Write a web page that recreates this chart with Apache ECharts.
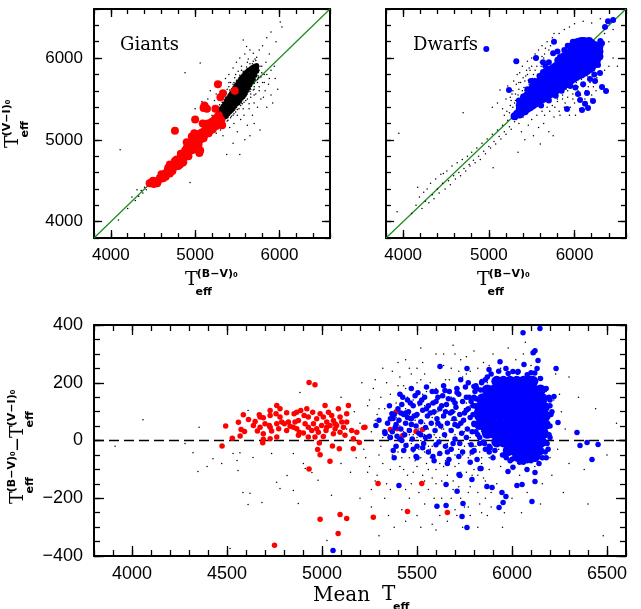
<!DOCTYPE html>
<html>
<head>
<meta charset="utf-8" />
<title>Teff comparison</title>
<script src="https://cdn.jsdelivr.net/npm/echarts@6/dist/echarts.min.js"></script>
<style>
  html, body { margin: 0; padding: 0; background: #fff; }
  #chart { width: 641px; height: 609px; }
</style>
</head>
<body>
<div id="chart"></div>
<script>
// ---- data ----
var diagonal = [[3800, 3800], [6600, 6600]];
var zeroLine = [[3800, 0], [6600, 0]];

// Giants: sparse field stars
var giantsDots = [
  [4090,4020],[4110,4880],[4200,4160],[4250,4300],[4290,4260],[4310,4390],[4330,4310],[4360,4380],[4380,4350],[4400,4420],
  [4420,4390],[4440,4470],[4470,4430],[4500,4520],[4520,4480],[4550,4560],[4570,4530],[4590,4600],[4610,4570],[4640,4650],
  [4660,4610],[4690,4700],[4710,4660],[4740,4760],[4760,4720],[4790,4800],[4810,4770],[4840,4860],[4860,4820],[4890,4910],
  [4910,4870],[4940,4960],[4940,4480],[4960,4920],[4990,5010],[5010,4970],[5040,5070],[5060,5020],[5090,5120],[5110,5070],
  [5140,5170],[5160,5120],[5190,5220],[5210,5170],[5230,5270],
  [4880,5820],[5060,5940],[5000,5380],[5080,5470],[5150,5500],[5180,5600],[5200,5300],[5230,5480],[5250,5560],[5280,5650],
  [5310,5700],[5330,5460],[5360,5750],[5380,5620],[5400,5800],[5420,5700],[5450,5880],[5470,5760],[5490,5950],[5510,5840],
  [5530,6000],[5550,5900],[5570,6220],[5590,6050],[5610,6140],[5630,5990],[5650,6100],[5690,6060],[5710,5990],[5730,6010],
  [5760,6100],[5800,6150],[5850,6250],[5900,6320],[6010,6440],[6030,6380],[5960,6200],[5880,6050],
  [5250,5080],[5300,5120],[5330,5050],[5350,5180],[5375,4820],[5390,5240],[5410,5150],[5430,5290],[5450,4960],[5460,5200],
  [5480,5340],[5500,5100],[5520,5380],[5530,4820],[5540,5250],[5560,5440],[5580,5300],[5600,5480],[5620,5180],[5640,5380],
  [5660,5520],[5680,5300],[5690,5610],[5700,5450],[5720,5560],[5740,5400],[5760,5650],[5770,5120],[5780,5500],[5800,5700],
  [5810,5520],[5830,5600],[5850,5400],[5870,5680],[5900,5550],[5920,5450],[5950,5750],[5980,5620],[5700,5200],[5650,5050],
  [5590,5000],[5850,5800],[5750,5780],[5620,5620],[5300,5400],[5270,5350],
  [5240,5320],[5260,5150],[5280,5400],[5300,5180],[5320,5460],[5340,5240],[5360,5520],[5380,5290],[5400,5560],[5420,5330],
  [5440,5620],[5460,5380],[5480,5660],[5500,5420],[5520,5720],[5540,5470],[5560,5780],[5580,5510],[5600,5820],[5620,5560],
  [5640,5860],[5660,5620],[5680,5900],[5700,5690],[5720,5920],[5750,5760],[5770,5900],[5790,5820],
  [5250,5360],[5290,5430],[5330,5500],[5370,5570],[5410,5610],[5450,5680],[5490,5730],[5530,5790],[5570,5840],[5610,5890],
  [5650,5930],[5690,5960],[5340,5200],[5380,5230],[5420,5270],[5460,5320],[5500,5370],[5540,5420],[5580,5460],[5620,5500],
  [5660,5560],[5700,5620],[5740,5700],[5780,5770],
  [5200,5250],[5230,5400],[5260,5230],[5280,5500],[5310,5260],[5340,5550],[5370,5280],[5400,5650],[5430,5350],[5460,5700],
  [5490,5400],[5520,5760],[5550,5450],[5580,5800],[5600,5530],[5630,5860],[5650,5590],[5680,5930],[5700,5650],[5720,5970],
  [5740,5740],[5760,5850],[5790,5900],[5820,5800],[5840,5950],[5350,5580],[5400,5700],[5480,5800],[5550,5850],[5620,5950],
  [5500,5300],[5570,5380],[5640,5440],[5700,5550],[5760,5600],[5820,5700],[5880,5750],[5900,5850],[5940,5900],[5450,5300]
];

// Giants: dense core of field stars
var giantsCore = [
  [5230,5190],[5230,5220],
  [5250,5190],[5250,5230],[5250,5260],
  [5270,5210],[5270,5250],[5270,5290],
  [5290,5230],[5290,5270],[5290,5310],[5290,5340],
  [5310,5240],[5310,5280],[5310,5320],[5310,5360],[5310,5380],
  [5330,5260],[5330,5300],[5330,5340],[5330,5380],[5330,5410],
  [5350,5280],[5350,5320],[5350,5360],[5350,5400],[5350,5440],
  [5370,5290],[5370,5330],[5370,5370],[5370,5410],[5370,5450],[5370,5480],
  [5390,5320],[5390,5360],[5390,5400],[5390,5440],[5390,5480],[5390,5510],
  [5410,5340],[5410,5380],[5410,5420],[5410,5460],[5410,5500],[5410,5540],
  [5430,5360],[5430,5400],[5430,5440],[5430,5480],[5430,5520],[5430,5570],
  [5450,5380],[5450,5420],[5450,5460],[5450,5500],[5450,5540],[5450,5580],[5450,5610],
  [5470,5410],[5470,5450],[5470,5490],[5470,5530],[5470,5570],[5470,5610],[5470,5640],
  [5490,5440],[5490,5480],[5490,5520],[5490,5560],[5490,5600],[5490,5640],[5490,5670],
  [5510,5450],[5510,5490],[5510,5530],[5510,5570],[5510,5610],[5510,5650],[5510,5700],
  [5530,5480],[5530,5520],[5530,5560],[5530,5600],[5530,5640],[5530,5680],[5530,5730],
  [5550,5510],[5550,5550],[5550,5590],[5550,5630],[5550,5670],[5550,5710],[5550,5760],
  [5570,5530],[5570,5570],[5570,5610],[5570,5650],[5570,5690],[5570,5730],[5570,5780],
  [5590,5560],[5590,5600],[5590,5640],[5590,5680],[5590,5720],[5590,5760],[5590,5810],
  [5610,5600],[5610,5640],[5610,5680],[5610,5720],[5610,5760],[5610,5830],
  [5630,5630],[5630,5670],[5630,5710],[5630,5750],[5630,5790],[5630,5850],
  [5650,5670],[5650,5710],[5650,5750],[5650,5790],[5650,5860],
  [5670,5710],[5670,5750],[5670,5790],[5670,5830],[5670,5880],
  [5690,5740],[5690,5780],[5690,5820],[5690,5860],[5690,5890],
  [5710,5790],[5710,5830],[5710,5870],[5710,5900],
  [5730,5840],[5730,5880],[5730,5910]
];

// Giants: red sample
var giantsRed = [
  [4460,4470],[4480,4480],[4510,4460],[4530,4490],[4560,4500],[4580,4520],[4600,4540],[4620,4560],[4640,4560],[4650,4590],
  [4670,4600],[4690,4620],[4700,4640],[4710,4670],[4720,4650],[4740,4680],[4750,4700],[4760,4670],[4770,4720],[4780,4690],
  [4790,4740],[4800,4720],[4810,4760],[4820,4740],[4830,4780],[4840,4760],[4850,4800],[4860,4780],[4870,4820],[4880,4800],
  [4890,4840],[4900,4830],[4910,4870],[4920,4850],[4930,4880],[4940,4900],[4950,4870],[4960,4920],[4970,4900],[4980,4950],
  [4990,4930],[5000,4970],[5010,4950],[5020,5000],[5030,4980],[5040,5020],[5050,5000],[5060,5040],[5070,5020],[5080,5060],
  [5090,5040],[5100,5080],[5110,5060],[5120,5100],[5130,5080],[5140,5120],[5150,5100],[5160,5140],[5170,5120],[5180,5150],
  [5200,5170],[5220,5190],[5240,5200],[5260,5230],[5280,5210],[5300,5250],[5050,4840],[5060,4870],[4900,4970],[4760,5110],
  [5000,5250],[5100,5390],[5120,5400],[5140,5380],[5110,5420],[5240,5380],[5270,5680],[5300,5520],[5330,5570],[5470,5600],
  [5320,5180],[4990,5080],[5090,5200],[4960,5040],[5030,5070],[5190,5210],[5150,5200],[4700,4590],[4620,4530],[4850,4720],
  [5080,5090],
  [4500,4500],[4550,4470],[4600,4580],[4650,4550],[4700,4700],[4730,4620],[4760,4740],[4800,4680],[4830,4830],[4860,4730],
  [4880,4870],[4920,4800],[4950,4950],[4980,4880],[5010,5010],[5040,4940],[5070,5080],[5100,5020],[5130,5140],[5160,5080],
  [5190,5190],[5210,5130],[5230,5240],[5250,5170],[5270,5280],[5290,5190],[4680,4660],[4780,4760],[4820,4700],[4900,4900],
  [4970,4960],[5060,5000],[5110,5110],[5170,5170],[5200,5220],[5240,5260],[5280,5300],[5310,5240],[5190,5120]
];

// Dwarfs: field stars
var dwarfsDots = [
  [3930,4120],[3950,5080],[4100,4100],[4150,4200],[4170,4420],[4190,4300],[4220,4160],[4240,4360],[4260,4250],[4280,4400],
  [4300,4230],[4320,4470],[4340,4330],[4360,4280],[4380,4520],[4400,4400],[4420,4350],[4440,4580],[4460,4470],[4470,4590],
  [4490,4400],[4510,4620],[4530,4500],[4550,4450],[4570,4680],[4590,4560],[4610,4520],[4630,4720],[4650,4600],[4670,4560],
  [4690,4760],[4700,5330],[4710,4650],[4730,4620],[4750,4800],[4770,4700],[4780,4680],[4800,4850],[4820,4750],[4840,4720],
  [4860,4900],[4880,4800],[4900,4760],[4920,4960],[4940,4860],[4960,4830],[4980,5010],[5000,4920],[5020,4900],[5040,5070],
  [5050,4660],[5060,4980],[5080,4950],[5100,5120],[5120,5040],[5140,5010],[5160,5180],[5180,5100],[5200,5070],[5220,5240],
  [5240,5160],[5260,5130],[5280,5300],[5300,5220],[5340,4850],
  [5040,5400],[5100,5450],[5130,5610],[5160,5380],[5200,5500],[5220,5660],[5250,5420],[5270,5560],[5290,5720],[5310,5480],
  [5330,5800],[5350,5620],[5370,5700],[5390,5900],[5410,5640],[5430,5780],[5450,5960],[5460,5730],[5480,5850],[5500,6000],
  [5520,5800],[5540,6050],[5560,5900],[5580,6100],[5600,5950],[5620,6150],[5650,6050],[5680,6200],[5700,6100],[5740,6250],
  [5780,6200],[5820,6300],[5880,6350],[5940,6380],[6000,6420],[6100,6450],[6200,6430],[6300,6480],[6350,6300],[6400,6200],
  [6450,6350],
  [5350,5200],[5380,5100],[5400,5280],[5420,5000],[5440,5320],[5460,5180],[5480,5380],[5500,5250],[5520,5050],[5540,5400],
  [5560,5300],[5580,5150],[5600,5450],[5620,5350],[5640,5200],[5660,5480],[5680,5400],[5700,5100],[5720,5500],[5740,5420],
  [5760,5280],[5780,5550],[5800,5470],[5820,5350],[5840,5580],[5860,5500],[5880,5400],[5900,5620],[5920,5520],[5940,5300],
  [5960,5650],[5980,5560],[6000,5450],[6020,5700],[6040,5600],[6060,5380],[6080,5740],[6100,5650],[6120,5500],[6150,5780],
  [6180,5700],[6200,5550],[6230,5820],[6260,5760],[6300,5650],[6350,5850],[6400,5900],[6450,6000],[6500,5900],[5600,4950],
  [5750,5050],
  [5300,5340],[5320,5250],[5340,5400],[5360,5300],[5380,5460],[5400,5350],[5420,5500],[5440,5400],[5460,5560],[5480,5450],
  [5500,5600],[5520,5480],[5540,5660],[5560,5520],[5580,5700],[5600,5560],
  [5180,5300],[5210,5350],[5240,5330],[5260,5480],[5280,5400],[5310,5560],[5330,5420],[5350,5700],[5370,5520],[5400,5760],
  [5420,5600],[5440,5850],[5470,5680],[5500,5900],[5530,5750],[5560,5980],[5590,5800],[5620,6020],
  [5250,5520],[5280,5600],[5300,5450],[5320,5680],[5340,5550],[5360,5820],[5390,5600],[5420,5720],[5450,5800],[5470,5880],
  [5510,5750],[5540,5850],[5570,5800],[5610,5900],[5640,6000],[5660,6120],[5720,6150],[5760,6300],
  [5620,5400],[5650,5300],[5680,5500],[5710,5350],[5740,5550],[5770,5400],[5800,5500],[5830,5300],[5860,5550],[5890,5450],
  [5920,5600],[5950,5400],[5980,5500],[6010,5300],[6040,5650],[6070,5550],[6100,5450],[6130,5600],[6160,5650],[6190,5500],
  [6220,5650],[6250,5600]
];

// Dwarfs: blue sample, dense part of the clump
var dwarfsBlueCore = [
  [5300,5290],[5330,5320],
  [5360,5310],[5360,5370],[5360,5420],
  [5390,5340],[5390,5400],[5390,5450],
  [5420,5350],[5420,5410],[5420,5470],[5420,5520],
  [5450,5380],[5450,5440],[5450,5500],[5450,5550],
  [5480,5400],[5480,5460],[5480,5520],[5480,5580],
  [5510,5420],[5510,5480],[5510,5540],[5510,5600],[5510,5640],
  [5540,5440],[5540,5500],[5540,5560],[5540,5620],[5540,5670],
  [5570,5460],[5570,5520],[5570,5580],[5570,5640],[5570,5700],
  [5600,5480],[5600,5540],[5600,5600],[5600,5660],[5600,5720],
  [5630,5500],[5630,5560],[5630,5620],[5630,5680],[5630,5740],[5630,5790],
  [5660,5520],[5660,5580],[5660,5640],[5660,5700],[5660,5760],[5660,5820],
  [5690,5540],[5690,5600],[5690,5660],[5690,5720],[5690,5780],[5690,5840],
  [5720,5560],[5720,5620],[5720,5680],[5720,5740],[5720,5800],[5720,5860],
  [5750,5580],[5750,5640],[5750,5700],[5750,5760],[5750,5820],[5750,5880],
  [5780,5600],[5780,5660],[5780,5720],[5780,5780],[5780,5840],[5780,5900],
  [5810,5620],[5810,5680],[5810,5740],[5810,5800],[5810,5860],[5810,5920],[5810,5970],
  [5840,5640],[5840,5700],[5840,5760],[5840,5820],[5840,5880],[5840,5940],[5840,6000],
  [5870,5660],[5870,5720],[5870,5780],[5870,5840],[5870,5900],[5870,5960],[5870,6020],
  [5900,5680],[5900,5740],[5900,5800],[5900,5860],[5900,5920],[5900,5980],[5900,6040],
  [5930,5700],[5930,5760],[5930,5820],[5930,5880],[5930,5940],[5930,6000],[5930,6060],
  [5960,5730],[5960,5790],[5960,5850],[5960,5910],[5960,5970],[5960,6030],[5960,6090],[5960,6140],
  [5990,5750],[5990,5810],[5990,5870],[5990,5930],[5990,5990],[5990,6050],[5990,6110],[5990,6170],
  [6020,5770],[6020,5830],[6020,5890],[6020,5950],[6020,6010],[6020,6070],[6020,6130],[6020,6190],
  [6050,5790],[6050,5850],[6050,5910],[6050,5970],[6050,6030],[6050,6090],[6050,6150],[6050,6200],
  [6080,5800],[6080,5860],[6080,5920],[6080,5980],[6080,6040],[6080,6100],[6080,6160],[6080,6210],
  [6110,5820],[6110,5880],[6110,5940],[6110,6000],[6110,6060],[6110,6120],[6110,6180],[6110,6210],
  [6140,5840],[6140,5900],[6140,5960],[6140,6020],[6140,6080],[6140,6140],[6140,6200],
  [6170,5860],[6170,5920],[6170,5980],[6170,6040],[6170,6100],[6170,6160],[6170,6210],
  [6200,5880],[6200,5940],[6200,6000],[6200,6060],[6200,6120],[6200,6180],
  [6230,5920],[6230,5980],[6230,6040],[6230,6100],[6230,6160],
  [6260,5970],[6260,6030],[6260,6090],[6260,6150],
  [6290,6020],[6290,6080],[6290,6140]
];

// Dwarfs: blue sample, scattered
var dwarfsBlue = [
  [4970,6110],[5320,5960],[5550,6000],[5235,5610],[5750,6060],[5830,6010],[5865,5975],[5737,5853],[5632,5830],[5540,5720],
  [5490,5720],[5680,5710],[5760,6200],[5980,6200],[6064,6100],[5632,5950],[5590,5780],[5660,5900],[5700,5950],[5800,6080],
  [5880,6100],[5920,6150],[5450,5620],[5400,5530],[5350,5480],[5610,5420],[5700,5480],[5780,5540],[5850,5600],[5950,5660],
  [6297,5817],[6239,5720],[6367,5597],[6145,5573],[6064,5487],[6215,5475],[6157,5390],[6087,5365],[5912,5377],[6122,5440],
  [6040,5560],[6320,5645],[6274,5915],[6180,5744],[6100,5680],[6010,5640],[6230,5800],[6355,6380],[6390,6450],[6450,6465],
  [6300,6210],[6320,6180]
];

// Difference panel: field stars
var diffDots = [
  [4058,72],[3911,-20],[4353,46],[4279,-10],[4321,-42],[4426,-63],[4395,-90],[4347,-107],[4472,-80],[4532,-45],
  [4568,-42],[4553,-69],[4558,-104],[4584,-180],[4611,-222],[4621,-183],[4684,-215],[4516,-374],[4611,104],[4630,52],
  [4735,-45],[4761,-145],[4779,-166],[4849,-173],[4875,-218],[4902,-80],[4912,-97],[4884,166],[4947,-111],[4979,-138],
  [5026,-346],[4928,104],[4849,-45],[4816,-121],[4637,-59],[5100,150],[5150,-110],[5180,-60],[5050,-190],
  [5200,60],[5220,-30],[5240,120],[5250,-90],[5260,30],[5270,180],[5280,-140],[5290,90],[5300,-50],[5310,150],
  [5320,10],[5330,-200],[5340,200],[5350,70],[5360,-100],[5370,240],[5380,-20],[5390,130],[5400,-160],[5400,270],
  [5300,-330],[5350,-260],[5260,-230],[5380,-300],
  [5410,50],[5420,-60],[5430,190],[5440,110],[5450,-120],[5460,20],[5470,230],[5480,-40],[5490,160],[5500,80],
  [5510,-180],[5520,0],[5530,270],[5540,120],[5550,-80],[5560,40],[5570,200],[5580,-130],[5590,90],[5600,300],
  [5420,-240],[5460,-200],[5500,-260],[5540,-220],[5580,-290],[5450,150],[5470,-10],[5490,70],[5510,120],[5530,-30],
  [5550,170],[5570,-60],[5590,20],[5440,-30],[5460,90],[5480,140],[5500,-90],[5520,60],[5540,-140],[5560,110],
  [5580,-20],[5600,-100],[5430,30],[5410,-90],[5420,100],[5480,20],[5520,210],[5560,-170],[5600,50],
  [5610,-50],[5620,150],[5630,-200],[5640,260],[5650,10],[5660,-120],[5670,210],[5680,-30],[5690,330],[5700,-90],
  [5710,130],[5720,-160],[5730,280],[5740,0],[5750,-230],[5760,180],[5770,-60],[5780,240],[5790,-120],[5800,310],
  [5810,30],[5820,-180],[5830,200],[5840,-80],[5850,270],[5620,-260],[5660,-280],[5700,-240],[5740,-300],[5780,-260],
  [5820,-300],[5630,80],[5650,-70],[5670,40],[5690,-140],[5710,70],[5730,-110],[5750,110],[5770,-10],[5790,60],
  [5810,-40],[5830,100],[5850,-130],[5640,-20],[5660,120],[5680,70],[5700,20],[5720,180],[5740,-50],[5760,40],
  [5780,-160],[5800,-20],[5820,90],[5840,150],
  [5420,160],[5440,-170],[5460,250],[5480,-110],[5500,200],[5520,-60],[5540,60],[5560,-20],[5580,130],[5600,-150],
  [5620,10],[5640,-90],[5660,170],[5680,-200],[5700,100],[5720,-30],[5740,220],[5760,-110],[5780,10],[5800,150],
  [5820,-70],[5840,30],[5860,-140],[5880,260],[5460,-60],[5500,10],[5540,-40],[5580,80],[5620,-80],[5660,-10],
  [5700,-50],[5740,60],[5780,120],[5820,-120],[5860,60],[5350,20],[5370,-50],[5390,80],[5330,110],[5310,-20],
  [5290,-120],[5250,140],[5230,-60],[5210,200],[5440,280],[5520,320],[5600,-310],[5680,250],[5760,290],[5840,-250],
  [5880,-60],[5910,20],[5930,-30],[5960,-60],
  [5260,-170],[5280,210],[5300,110],[5320,-80],[5340,-150],[5360,160],[5380,50],[5400,-40],[5410,220],[5430,-100],
  [5440,180],[5450,40],[5470,-150],[5490,-70],[5500,250],[5510,40],[5530,-120],[5540,230],[5560,-100],[5570,130],
  [5590,-50],[5600,180],[5610,100],[5630,-140],[5640,40],[5650,210],[5670,-60],[5680,150],[5690,-170],[5710,0],
  [5720,240],[5730,-200],[5750,-20],[5760,130],[5770,-180],[5790,190],[5800,-100],[5810,80],[5830,-40],[5850,130],
  [5450,-10],[5480,60],[5510,-30],[5540,20],[5570,-30],[5600,10],[5630,40],[5660,-40],[5690,50],[5720,-80],
  [5750,30],[5780,-50],[5810,-20],[5840,-60],[5470,120],[5530,160],[5590,-200],[5650,-230],[5710,-260],[5770,-230],
  [5830,-220],[5890,-230],[5360,-170],[5400,190],[5440,-280],[5520,-300],[5640,300],[5700,300],[5760,230],[5820,250],
  [5870,200],[5890,-180],[5320,250],[5280,70],[5240,-110],[5200,-200],[5170,100],[5130,40],[5100,-80],
  [5860,-200],[5880,-100],[5900,300],[5920,-150],[5940,250],[5960,-250],[5980,320],[6000,-200],[6020,280],[6040,-120],
  [6060,300],[6080,-180],[6100,260],[6120,-90],[6140,220],[6160,-150],[6180,170],[6200,-60],[6220,140],[6240,-30],
  [6260,100],[6280,40],[6300,-80],[6230,230],[6250,160],[5870,-260],[5950,-300],[6050,-250],[6150,-220],[6070,340],
  [6120,300],[5900,-50],[5940,-90],[6210,-120],[6270,-180],
  [6350,150],[6400,-220],[6480,-330],[6440,110],[6500,-50],[6550,60],[6300,220],[6380,-100]
];

// Difference panel: giants (red)
var diffRed = [
  [4493,50],[4528,8],[4560,63],[4586,89],[4574,38],[4592,31],[4613,73],[4569,16],[4648,66],[4670,89],
  [4674,81],[4691,79],[4700,58],[4674,46],[4691,23],[4691,4],[4688,-8],[4727,104],[4727,87],[4723,52],
  [4735,33],[4727,6],[4762,121],[4779,110],[4758,93],[4779,81],[4788,64],[4762,58],[4772,41],[4762,12],
  [4814,96],[4802,58],[4823,64],[4814,35],[4853,93],[4867,98],[4858,64],[4876,69],[4849,46],[4881,29],
  [4876,18],[4888,104],[4920,110],[4906,87],[4928,81],[4911,58],[4928,46],[4902,26],[4928,12],[4951,98],
  [4972,75],[4955,58],[4972,41],[4981,29],[4990,93],[5016,121],[5007,81],[5025,64],[4998,52],[5021,35],
  [5034,98],[5051,87],[5060,69],[5042,52],[5069,41],[5060,23],[5086,110],[5095,81],[5104,64],[5077,52],
  [5113,46],[5095,29],[5130,93],[5139,121],[5130,64],[5121,18],[5156,35],[5165,6],[5183,29],[5226,46],
  [5197,-7],[5165,-29],[5091,-29],[5055,-19],[4990,-49],[4977,-31],[4986,-9],[5042,-72],[4932,201],[4963,193],
  [4932,-99],[4474,-19],[4639,52],[4660,33],[4727,46],[4832,49],[4867,41],[4946,35],[5025,46],[5069,58],
  [5007,14],[4963,12],
  [4990,-273],[4750,-363],[5085,-322],[5095,-256],[5130,-270],[5270,-266],[5295,-149],[5450,-246],[5525,-149],[5660,-249],
  [5390,100],[5465,76],[5360,38],[5395,41],[5425,17],[5495,31],[5530,38],[5220,45]
];

// Difference panel: dwarfs (blue), dense clump
var diffBlueCore = [
  [5920,205],[5955,205],[5990,205],[6025,205],[6060,205],[6095,205],[6110,205],
  [5870,175],[5905,175],[5940,175],[5975,175],[6010,175],[6045,175],[6080,175],[6115,175],[6150,175],
  [5845,145],[5880,145],[5915,145],[5950,145],[5985,145],[6020,145],[6055,145],[6090,145],[6125,145],[6160,145],
  [5830,115],[5865,115],[5900,115],[5935,115],[5970,115],[6005,115],[6040,115],[6075,115],[6110,115],[6145,115],[6170,115],
  [5830,85],[5865,85],[5900,85],[5935,85],[5970,85],[6005,85],[6040,85],[6075,85],[6110,85],[6145,85],[6175,85],
  [5830,55],[5865,55],[5900,55],[5935,55],[5970,55],[6005,55],[6040,55],[6075,55],[6110,55],[6145,55],[6175,55],
  [5870,25],[5905,25],[5940,25],[5975,25],[6010,25],[6045,25],[6080,25],[6115,25],[6150,25],[6165,25],
  [5920,-5],[5955,-5],[5990,-5],[6025,-5],[6060,-5],[6095,-5],[6130,-5],[6155,-5],
  [5980,-35],[6015,-35],[6050,-35],[6085,-35],[6120,-35],[6140,-35],
  [6030,-55],[6065,-55],[6100,-55],[6120,-55]
];

// Difference panel: dwarfs (blue), scattered
var diffBlue = [
  [5345,60],[5360,75],[5370,30],[5380,90],[5385,45],[5395,15],[5400,110],[5405,70],[5415,40],[5420,125],
  [5430,90],[5435,20],[5440,60],[5450,140],[5455,100],[5460,35],[5470,75],[5475,5],[5480,120],[5490,155],
  [5495,50],[5500,90],[5510,25],[5515,130],[5520,65],[5530,105],[5535,-10],[5540,150],[5545,45],[5555,85],
  [5560,120],[5565,15],[5575,60],[5580,170],[5590,100],[5595,35],[5600,135],[5605,75],[5615,-5],[5620,110],
  [5625,50],[5635,155],[5640,85],[5645,20],[5655,125],[5660,60],[5670,170],[5675,95],[5680,35],[5690,140],
  [5695,75],[5700,5],[5705,115],[5715,50],[5720,160],[5725,90],[5735,25],[5740,135],[5745,70],[5755,185],
  [5760,105],[5765,40],[5775,150],[5780,80],[5785,-15],[5795,120],[5800,55],[5805,170],[5815,100],[5820,20],
  [5825,140],[5835,75],[5840,200],[5845,110],[5850,40],[5390,-20],[5430,-35],[5480,-30],[5560,-40],[5620,-45],
  [5680,-30],[5740,-40],[5800,-35],[5500,-60],[5590,-70],[5660,-80],[5360,10],[5410,160],[5470,180],[5380,-60],
  [5330,30],[5300,70],[5284,52],[5332,24],[5368,93],[5374,76],[5358,10],[5442,-17],[5495,-55],
  [5700,130],[5730,60],[5760,150],[5790,30],[5810,190],[5830,-10],[5650,100],[5610,150],[5550,110],[5520,20],
  [5450,80],[5420,0],[5770,110],[5730,210],[5690,-10],[5860,-30],[5880,-40],[5900,-60],[5960,-50],[5990,-70],
  [5355,120],[5375,-35],[5390,55],[5410,5],[5425,150],[5440,95],[5465,130],[5485,85],[5500,-20],[5505,165],
  [5525,140],[5545,10],[5550,185],[5570,95],[5585,130],[5600,-15],[5610,60],[5630,120],[5640,190],[5650,-20],
  [5665,145],[5685,100],[5700,55],[5710,180],[5725,-10],[5750,95],[5760,10],[5770,200],[5785,135],[5790,-40],
  [5810,145],[5820,60],[5835,175],[5850,100],[5860,150],[5855,-10],[5870,220],[5885,-25],[5415,95],[5470,55],
  [5530,-25],[5600,170],[5660,-40],[5720,-55],[5780,-75],
  [6200,140],[6210,100],[6200,10],[6190,-30],[6180,-60],[6100,-70],[6060,-75],
  [5890,230],[5930,240],[5980,232],[6030,236],[6080,228],[6120,234],[6150,215],[5860,210],
  [5815,180],[5800,150],[5805,120],[5795,90],[5800,60],[5810,30],[5830,10],[5850,-5],[5880,-20],[5910,-35],[5950,-50],
  [6180,180],[6195,150],[6200,120],[6205,90],[6200,50],[6195,20],[6185,-10],[6175,-40],[6160,-60],
  [6000,-65],[6040,-75],[6080,-70],[6120,-65],[5970,-60],
  [6147,388],[6058,373],[6121,311],[6111,304],[6137,277],[6232,249],[5621,256],[5763,249],[5879,246],[5937,273],
  [5968,249],[6005,239],[6032,239],[6063,263],[6100,235],[6132,249],[6221,152],[6242,62],[6342,28],[6358,-17],
  [6395,-7],[6453,-14],[6421,-66],[5647,173],[5711,166],[5800,187],[5842,204],
  [5763,-301],[5737,-263],[5742,-218],[5653,-225],[5605,-228],[5711,-176],[5868,-159],[5895,-163],[5932,-232],[5953,-215],
  [5968,-194],[5947,-180],[6105,-211],[6026,-156],[6053,-152],[6121,-142],[5653,-152],[5726,-121],[5837,-97],[5789,-135],
  [5584,-55],[5668,-66],[5721,-118],[5816,-66],[5832,-97],[5979,-107],[6005,-93],[6079,-100],[6121,-111],[6142,-80],
  [5405,-156],[5058,-381]
];

// tick values
var topMajor = [4000, 5000, 6000];
var diffXMajor = [4000, 4500, 5000, 5500, 6000, 6500];
var diffYMajor = [-400, -200, 0, 200, 400];

var chart = echarts.init(document.getElementById('chart'));

function plainNumber(v) {
  return v < 0 ? '\u2212' + Math.abs(v) : String(v);
}

// one side of a framed box: a minor-tick axis plus a major-tick axis carrying the labels
function sideAxes(grid, pos, min, max, minorStep, majors, showLabels, majorLen, minorLen, fontSize, margin) {
  return [
    {
      gridIndex: grid, type: 'value', position: pos, min: min, max: max, interval: minorStep,
      axisLine: { show: true, onZero: false, lineStyle: { color: '#000', width: 2 } },
      axisTick: { show: true, inside: true, length: minorLen, lineStyle: { color: '#000', width: 1.3 } },
      axisLabel: { show: false }, splitLine: { show: false }
    },
    {
      gridIndex: grid, type: 'value', position: pos, min: min, max: max,
      axisLine: { show: false, onZero: false },
      axisTick: { show: true, inside: true, length: majorLen, customValues: majors, lineStyle: { color: '#000', width: 1.3 } },
      axisLabel: {
        show: showLabels, customValues: majors, margin: margin, formatter: plainNumber,
        fontFamily: 'Liberation Sans', fontSize: fontSize, color: '#000'
      },
      splitLine: { show: false }
    }
  ];
}

var xAxes = [], yAxes = [];
// grid 0: giants
xAxes = xAxes.concat(sideAxes(0, 'bottom', 3800, 6600, 200, topMajor, true, 8, 5, 17, 9), sideAxes(0, 'top', 3800, 6600, 200, topMajor, false, 8, 5, 17, 9));
yAxes = yAxes.concat(sideAxes(0, 'left', 3800, 6600, 200, topMajor, true, 8, 5, 17, 11), sideAxes(0, 'right', 3800, 6600, 200, topMajor, false, 8, 5, 17, 9));
// grid 1: dwarfs
xAxes = xAxes.concat(sideAxes(1, 'bottom', 3800, 6600, 200, topMajor, true, 8, 5, 17, 9), sideAxes(1, 'top', 3800, 6600, 200, topMajor, false, 8, 5, 17, 9));
yAxes = yAxes.concat(sideAxes(1, 'left', 3800, 6600, 200, topMajor, false, 8, 5, 17, 9), sideAxes(1, 'right', 3800, 6600, 200, topMajor, false, 8, 5, 17, 9));
// grid 2: differences
xAxes = xAxes.concat(sideAxes(2, 'bottom', 3800, 6600, 100, diffXMajor, true, 10, 6, 18, 9), sideAxes(2, 'top', 3800, 6600, 100, diffXMajor, false, 10, 6, 18, 9));
yAxes = yAxes.concat(sideAxes(2, 'left', -400, 400, 50, diffYMajor, true, 10, 6, 18, 11), sideAxes(2, 'right', -400, 400, 50, diffYMajor, false, 10, 6, 18, 9));

function dots(data, xi, size, color, z) {
  return {
    type: 'scatter', xAxisIndex: xi, yAxisIndex: xi, data: data,
    symbolSize: size, itemStyle: { color: color, opacity: 1 }, z: z, silent: true
  };
}

// T with a colour-index superscript and "eff" subscript, origin at the baseline of T
function teff(x, y, rot, sup, tSize) {
  return {
    type: 'group', x: x, y: y, rotation: rot,
    children: [
      { type: 'text', x: 0, y: 0, style: { text: 'T', font: tSize + 'px "DejaVu Serif"', fill: '#000', textVerticalAlign: 'bottom' } },
      { type: 'text', x: tSize * 0.62, y: -tSize * 0.52, style: { text: sup, font: 'bold 11px "DejaVu Sans"', fill: '#000', textVerticalAlign: 'bottom' } },
      { type: 'text', x: tSize * 0.55, y: 8, style: { text: 'eff', font: 'bold 11px "DejaVu Sans"', fill: '#000', textVerticalAlign: 'bottom' } }
    ]
  };
}

var labelFont = '18px "DejaVu Serif"';

chart.setOption({
  animation: false,
  backgroundColor: '#fff',
  grid: [
    { left: 94, top: 9, width: 236, height: 229 },
    { left: 386, top: 9, width: 240, height: 229 },
    { left: 94, top: 325, width: 532, height: 231 }
  ],
  xAxis: xAxes,
  yAxis: yAxes,
  series: [
    { type: 'line', xAxisIndex: 0, yAxisIndex: 0, data: diagonal, symbol: 'none', lineStyle: { color: '#1a8a1a', width: 1.2 }, z: 1, silent: true },
    dots(giantsDots, 0, 1.5, '#000', 2),
    dots(giantsCore, 0, 5, '#000', 2),
    dots(giantsRed, 0, 8, '#ff0000', 3),
    { type: 'line', xAxisIndex: 4, yAxisIndex: 4, data: diagonal, symbol: 'none', lineStyle: { color: '#1a8a1a', width: 1.2 }, z: 1, silent: true },
    dots(dwarfsDots, 4, 1.5, '#000', 2),
    dots(dwarfsBlueCore, 4, 8, '#0000ff', 3),
    dots(dwarfsBlue, 4, 6, '#0000ff', 3),
    { type: 'line', xAxisIndex: 8, yAxisIndex: 8, data: zeroLine, symbol: 'none', lineStyle: { color: '#000', width: 1.6, type: [10, 5] }, z: 1, silent: true },
    dots(diffDots, 8, 1.5, '#000', 2),
    dots(diffRed, 8, 5.5, '#ff0000', 3),
    dots(diffBlueCore, 8, 11, '#0000ff', 3),
    dots(diffBlue, 8, 5.5, '#0000ff', 3)
  ],
  graphic: [
    { type: 'text', x: 120, y: 36, style: { text: 'Giants', font: labelFont, fill: '#000' } },
    { type: 'text', x: 413, y: 36, style: { text: 'Dwarfs', font: labelFont, fill: '#000' } },
    teff(23, 148, Math.PI / 2, '(V\u2212I)\u2080', 19),
    teff(185, 290, 0, '(B\u2212V)\u2080', 19),
    teff(477, 290, 0, '(B\u2212V)\u2080', 19),
    {
      type: 'group', x: 28, y: 504, rotation: Math.PI / 2,
      children: [
        teff(0, 0, 0, '(B\u2212V)\u2080', 19),
        { type: 'text', x: 52, y: -1, style: { text: '\u2212', font: '18px "DejaVu Sans"', fill: '#000', textVerticalAlign: 'bottom' } },
        teff(66, 0, 0, '(V\u2212I)\u2080', 19)
      ]
    },
    { type: 'text', x: 313, y: 586, style: { text: 'Mean', font: '20px "DejaVu Serif"', fill: '#000' } },
    { type: 'group', x: 382, y: 605, children: [
      { type: 'text', x: 0, y: 0, style: { text: 'T', font: '20px "DejaVu Serif"', fill: '#000', textVerticalAlign: 'bottom' } },
      { type: 'text', x: 11, y: 8, style: { text: 'eff', font: 'bold 11px "DejaVu Sans"', fill: '#000', textVerticalAlign: 'bottom' } }
    ] }
  ]
});
</script>
</body>
</html>
